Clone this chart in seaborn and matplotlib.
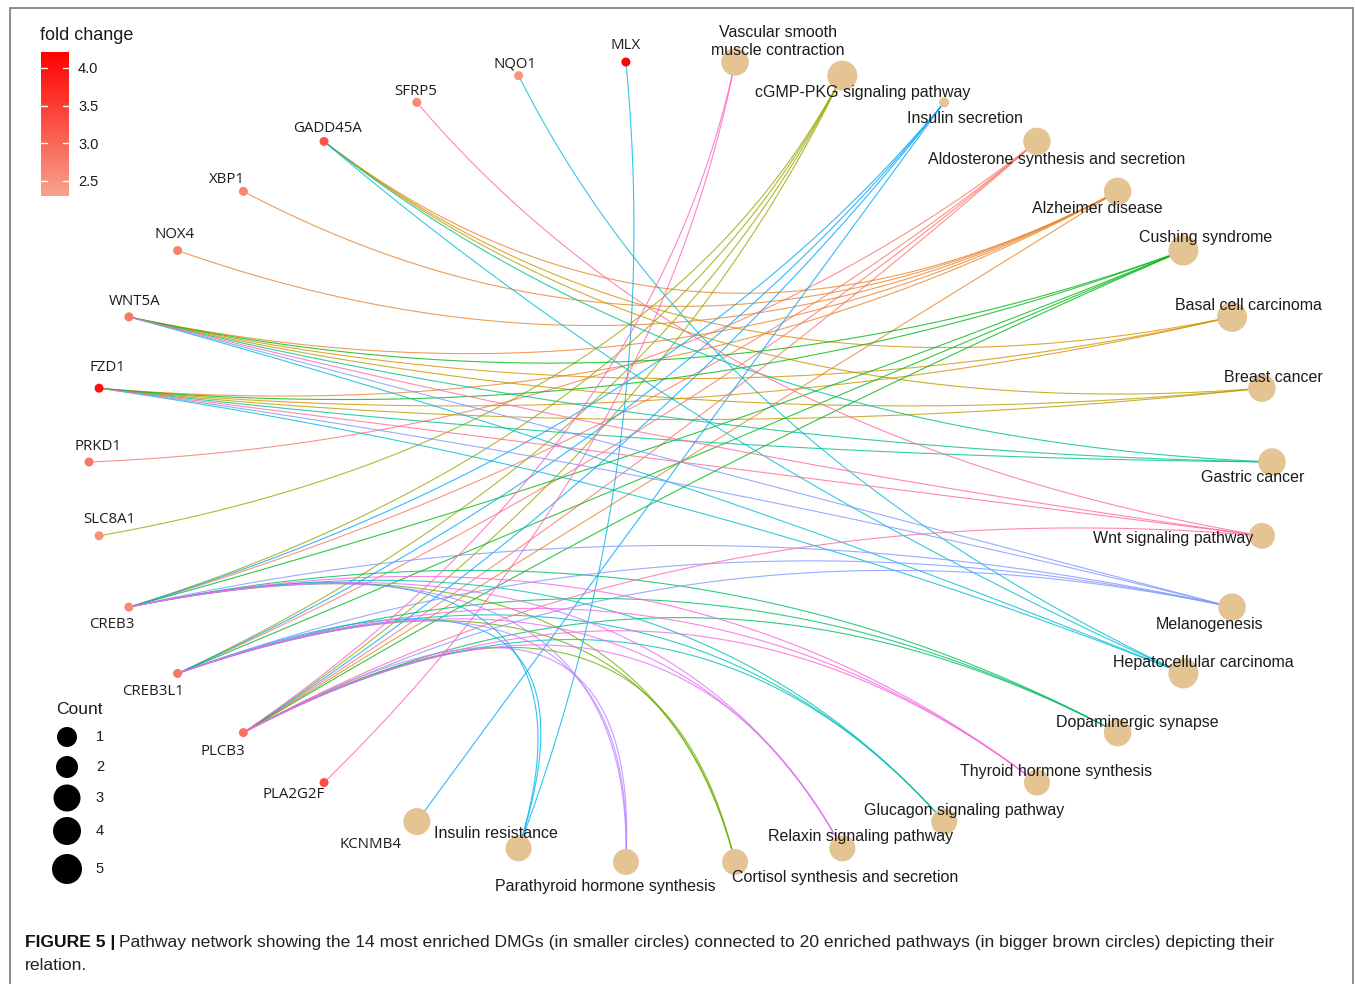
import numpy as np
import pandas as pd
import matplotlib
matplotlib.use("Agg")
import matplotlib.pyplot as plt
import seaborn as sns
from matplotlib.collections import LineCollection
from matplotlib.colors import LinearSegmentedColormap, Normalize
from matplotlib.cm import ScalarMappable
from matplotlib.patches import Rectangle

# ---------------- data ----------------
genes = ["MLX", "NQO1", "SFRP5", "GADD45A", "XBP1", "NOX4", "WNT5A", "FZD1",
         "PRKD1", "SLC8A1", "CREB3", "CREB3L1", "PLCB3", "PLA2G2F", "KCNMB4"]
fold_change = [4.2, 2.45, 2.6, 3.2, 2.65, 2.7, 2.8, 4.0,
               2.8, 2.5, 2.6, 2.8, 2.9, 3.3, np.nan]

pathways = ["Insulin resistance", "Parathyroid hormone synthesis",
            "Cortisol synthesis and secretion", "Relaxin signaling pathway",
            "Glucagon signaling pathway", "Thyroid hormone synthesis",
            "Dopaminergic synapse", "Hepatocellular carcinoma", "Melanogenesis",
            "Wnt signaling pathway", "Gastric cancer", "Breast cancer",
            "Basal cell carcinoma", "Cushing syndrome", "Alzheimer disease",
            "Aldosterone synthesis and secretion", "Insulin secretion",
            "cGMP-PKG signaling pathway", "Vascular smooth muscle contraction"]
pathway_count = [3, 3, 3, 3, 3, 3, 4, 5, 4, 3, 4, 4, 5, 5, 4, 4, 1, 5, 4]

pathway_genes = {
    "Aldosterone synthesis and secretion": ["PRKD1", "CREB3", "CREB3L1", "PLCB3"],
    "Alzheimer disease": ["XBP1", "NOX4", "WNT5A", "FZD1", "PLCB3", "GADD45A"],
    "Basal cell carcinoma": ["WNT5A", "FZD1", "GADD45A"],
    "Breast cancer": ["WNT5A", "FZD1", "GADD45A"],
    "cGMP-PKG signaling pathway": ["SLC8A1", "CREB3", "CREB3L1", "PLCB3"],
    "Cortisol synthesis and secretion": ["CREB3", "CREB3L1", "PLCB3"],
    "Cushing syndrome": ["WNT5A", "FZD1", "CREB3", "CREB3L1", "PLCB3"],
    "Dopaminergic synapse": ["CREB3", "CREB3L1", "PLCB3"],
    "Gastric cancer": ["WNT5A", "FZD1", "GADD45A"],
    "Glucagon signaling pathway": ["CREB3", "CREB3L1", "PLCB3"],
    "Hepatocellular carcinoma": ["NQO1", "WNT5A", "FZD1", "GADD45A"],
    "Insulin resistance": ["MLX", "CREB3", "CREB3L1"],
    "Insulin secretion": ["CREB3", "CREB3L1", "PLCB3", "KCNMB4"],
    "Melanogenesis": ["WNT5A", "FZD1", "CREB3", "CREB3L1", "PLCB3"],
    "Parathyroid hormone synthesis": ["CREB3", "CREB3L1", "PLCB3"],
    "Relaxin signaling pathway": ["CREB3", "CREB3L1", "PLCB3"],
    "Thyroid hormone synthesis": ["CREB3", "CREB3L1", "PLCB3"],
    "Vascular smooth muscle contraction": ["PLCB3", "PLA2G2F"],
    "Wnt signaling pathway": ["SFRP5", "WNT5A", "FZD1", "PLCB3"],
}

fc_ticks = [2.5, 3.0, 3.5, 4.0]
fc_range = (2.3, 4.21)
count_breaks = [1, 2, 3, 4, 5]
caption_bold = "FIGURE 5 |"
caption_text = ("Pathway network showing the 14 most enriched DMGs (in smaller circles) "
                "connected to 20 enriched pathways (in bigger brown circles) depicting their")
caption_line2 = "relation."

# ---------------- styling ----------------
W, H, DPI = 1355, 984, 100
PX = 72.0 / DPI  # points per pixel
TAN = "#E5C494"
INK = "#1c1c1c"

label_wrap = {"Vascular smooth muscle contraction": "Vascular smooth\nmuscle contraction"}

# label offsets from node centre (px, screen direction: +x right, +y down)
label_offset = {
    "MLX": (0, -17), "NQO1": (-4, -12), "SFRP5": (-1, -11), "GADD45A": (4, -13),
    "XBP1": (-16, -12), "NOX4": (-3, -16), "WNT5A": (6, -15), "FZD1": (8, -21),
    "PRKD1": (9, -16), "SLC8A1": (10, -16), "CREB3": (-17, 17), "CREB3L1": (-25, 18),
    "PLCB3": (-21, 19), "PLA2G2F": (-30, 12), "KCNMB4": (-46, 23),
    "Vascular smooth muscle contraction": (43, -21),
    "cGMP-PKG signaling pathway": (20, 17), "Insulin secretion": (21, 16),
    "Aldosterone synthesis and secretion": (20, 18), "Alzheimer disease": (-20, 17),
    "Cushing syndrome": (22, -13), "Basal cell carcinoma": (16, -11),
    "Breast cancer": (11, -11), "Gastric cancer": (-19, 15),
    "Wnt signaling pathway": (-89, 3), "Melanogenesis": (-22, 17),
    "Hepatocellular carcinoma": (20, -11), "Dopaminergic synapse": (20, -10),
    "Thyroid hormone synthesis": (19, -11), "Glucagon signaling pathway": (20, -11),
    "Relaxin signaling pathway": (18, -12), "Cortisol synthesis and secretion": (110, 16),
    "Parathyroid hormone synthesis": (-21, 25), "Insulin resistance": (-23, -15),
}


def hcl_hex(h, c=100.0, l=65.0):
    """Polar CIE-Luv (HCL) to sRGB hex, as used by ggplot's hue palette."""
    Xn, Yn, Zn = 95.047, 100.0, 108.883
    un = 4 * Xn / (Xn + 15 * Yn + 3 * Zn)
    vn = 9 * Yn / (Xn + 15 * Yn + 3 * Zn)
    U = c * np.cos(np.radians(h))
    V = c * np.sin(np.radians(h))
    Y = Yn * ((l + 16) / 116) ** 3 if l > 8 else Yn * l / 903.3
    u = U / (13 * l) + un
    v = V / (13 * l) + vn
    X = 9.0 * Y * u / (4 * v)
    Z = -X / 3 - 5 * Y + 3 * Y / v
    xyz = np.array([X, Y, Z]) / 100.0
    M = np.array([[3.240479, -1.537150, -0.498535],
                  [-0.969256, 1.875992, 0.041556],
                  [0.055648, -0.204043, 1.057311]])
    rgb = M @ xyz
    rgb = np.where(rgb > 0.00304, 1.055 * np.power(np.clip(rgb, 0, None), 1 / 2.4) - 0.055,
                   12.92 * rgb)
    rgb = np.clip(rgb, 0, 1)
    return "#%02x%02x%02x" % tuple(int(round(v * 255)) for v in rgb)


# category colours: ggplot hue palette over alphabetically ordered pathways
cats_sorted = sorted(pathways, key=lambda s: s.lower())
n_cat = len(cats_sorted)
cat_color = {c: hcl_hex(15 + 360.0 * i / n_cat) for i, c in enumerate(cats_sorted)}

# ---------------- circular layout ----------------
nodes = genes + pathways
n = len(nodes)
step = 360.0 / n
theta = np.radians(90 + step / 2 + step * np.arange(n))
pos = {name: (np.cos(t), np.sin(t)) for name, t in zip(nodes, theta)}

node_df = pd.DataFrame({
    "name": nodes,
    "x": [pos[k][0] for k in nodes],
    "y": [pos[k][1] for k in nodes],
    "kind": ["gene"] * len(genes) + ["pathway"] * len(pathways),
    "fc": fold_change + [np.nan] * len(pathways),
    "count": [np.nan] * len(genes) + pathway_count,
})

# ---------------- figure ----------------
sns.set_theme(style="white")
plt.rcParams["font.family"] = ["Liberation Sans", "DejaVu Sans"]

fig = plt.figure(figsize=(W / DPI, H / DPI), dpi=DPI)
ax = fig.add_axes([0, 0, 1, 1])
cx, cy, rx, ry = 680.5, 462.0, 591.5, 401.7   # ellipse the unit circle maps onto
ax.set_xlim(-cx / rx, (W - cx) / rx)
ax.set_ylim(-(H - cy) / ry, cy / ry)
ax.axis("off")

# outer frame
fig.patches.append(Rectangle((10 / W, -0.01), 1343 / W, (H - 8) / H + 0.01,
                             transform=fig.transFigure, fill=False,
                             edgecolor="#7a7a7a", lw=1.2, zorder=0))

# edges: quadratic curves whose control point is pulled in toward the centre
strength = 0.85
tt = np.linspace(0, 1, 100)[:, None]
segs, cols = [], []
for cat in cats_sorted:
    p2 = np.array(pos[cat])
    for g in pathway_genes[cat]:
        p0 = np.array(pos[g])
        p1 = (p0 + p2) / 2 * (1 - strength)
        curve = (1 - tt) ** 2 * p0 + 2 * (1 - tt) * tt * p1 + tt ** 2 * p2
        segs.append(curve)
        cols.append(cat_color[cat])
ax.add_collection(LineCollection(segs, colors=cols, linewidths=0.8, alpha=0.8, zorder=1))

# node colour / size scales
fc_cmap = LinearSegmentedColormap.from_list("fc", ["#F6A38B", "#FF0000"])
fc_norm = Normalize(*fc_range)
count_sizes = {1: (10 * PX) ** 2, 2: (22 * PX) ** 2, 3: (26 * PX) ** 2,
               4: (27.5 * PX) ** 2, 5: (30 * PX) ** 2}

path_df = node_df[node_df.kind == "pathway"]
sns.scatterplot(data=path_df, x="x", y="y", size="count", sizes=count_sizes,
                color=TAN, edgecolor="none", legend=False, ax=ax, zorder=3)

gene_df = node_df[(node_df.kind == "gene") & node_df.fc.notna()]
sns.scatterplot(data=gene_df, x="x", y="y", hue="fc", palette=fc_cmap, hue_norm=fc_norm,
                s=(9 * PX) ** 2, edgecolor="none", legend=False, ax=ax, zorder=4)

na_df = node_df[(node_df.kind == "gene") & node_df.fc.isna()]
sns.scatterplot(data=na_df, x="x", y="y", color=TAN, s=(27 * PX) ** 2,
                edgecolor="none", legend=False, ax=ax, zorder=3)

# labels
for name in nodes:
    dx, dy = label_offset[name]
    is_gene = name in genes
    ax.annotate(label_wrap.get(name, name), xy=pos[name],
                xytext=(dx * PX, -dy * PX), textcoords="offset points",
                ha="center", va="center", color=INK,
                fontsize=10.8 if is_gene else 11.5,
                family=["Open Sans", "DejaVu Sans"] if is_gene else ["Liberation Sans", "DejaVu Sans"],
                linespacing=1.25, zorder=6)

# ---------------- fold change colour bar ----------------
fig.text(40 / W, 1 - 36 / H, "fold change", ha="left", va="center",
         fontsize=13, color=INK)
cax = fig.add_axes([41 / W, 1 - 196 / H, 28 / W, 144 / H])
cb = fig.colorbar(ScalarMappable(norm=fc_norm, cmap=fc_cmap), cax=cax, ticks=fc_ticks)
cb.outline.set_visible(False)
cax.tick_params(length=0, pad=9 * PX, labelsize=10.5, colors=INK)
cax.set_yticklabels([f"{v:.1f}" for v in fc_ticks])
for v in fc_ticks:
    cax.plot([0.0, 0.2], [v, v], color="white", lw=1, transform=cax.get_yaxis_transform())
    cax.plot([0.8, 1.0], [v, v], color="white", lw=1, transform=cax.get_yaxis_transform())

# ---------------- count legend ----------------
lax = fig.add_axes([0, 0, 1, 1], facecolor="none")
lax.set_xlim(0, W)
lax.set_ylim(H, 0)
lax.axis("off")
lax.text(56, 709, "Count", ha="left", va="center", fontsize=12.5, color=INK)
key_y = [737, 767, 798, 831, 869]
key_d = [20, 22, 27, 28, 30]
leg_df = pd.DataFrame({"x": [67] * 5, "y": key_y, "count": count_breaks})
sns.scatterplot(data=leg_df, x="x", y="y", size="count",
                sizes={c: (d * PX) ** 2 for c, d in zip(count_breaks, key_d)},
                color="black", edgecolor="none", legend=False, ax=lax)
for c, yk in zip(count_breaks, key_y):
    lax.text(100, yk, str(c), ha="center", va="center", fontsize=10.5, color=INK)

# ---------------- caption ----------------
renderer = fig.canvas.get_renderer()
cap_fs = 12.6
tb = lax.text(25, 942, caption_bold, ha="left", va="center", fontsize=cap_fs,
              fontweight="bold", color="#111111")
bb = tb.get_window_extent(renderer)
x_next = lax.transData.inverted().transform((bb.x1 + 4, 0))[0]
lax.text(x_next, 942, caption_text, ha="left", va="center", fontsize=cap_fs, color="#222222")
lax.text(25, 966, caption_line2, ha="left", va="center", fontsize=cap_fs, color="#222222")

fig.savefig("out.png", dpi=DPI)
